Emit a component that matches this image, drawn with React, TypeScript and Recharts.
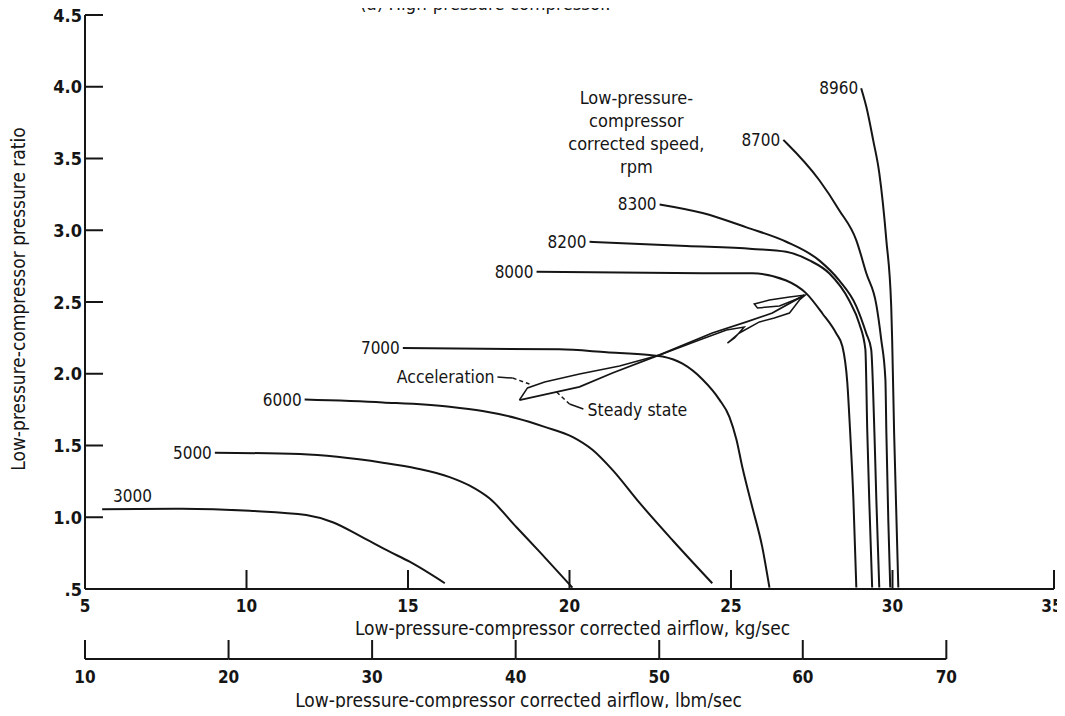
import React from "react";
import { LineChart, Line, XAxis, YAxis, ReferenceDot, ReferenceLine } from "recharts";

const INK = "#151515";
const FONT = "'Liberation Sans Narrow', 'DejaVu Sans Condensed', 'Liberation Sans', sans-serif";

// axes
const FLOW_DOMAIN: [number, number] = [5, 35];
const FLOW_TICKS = [5, 10, 15, 20, 25, 30, 35];
const LBM_DOMAIN: [number, number] = [10, 77.5];
const LBM_TICKS = [10, 20, 30, 40, 50, 60, 70];
const PR_DOMAIN: [number, number] = [0.5, 4.5];
const PR_TICKS = [0.5, 1, 1.5, 2, 2.5, 3, 3.5, 4, 4.5];

// constant corrected speed lines: airflow (kg/sec) and pressure ratio
const FLOW_3000 = [5.53, 8.0, 10.1, 11.85, 12.67, 13.51, 14.43, 15.05, 16.14];
const PR_3000 = [1.055, 1.06, 1.045, 1.015, 0.965, 0.87, 0.76, 0.69, 0.54];

const FLOW_5000 = [9.02, 11.65, 14.22, 15.27, 16.29, 16.91, 17.53, 18.36, 19.07, 20.09];
const PR_5000 = [1.45, 1.44, 1.38, 1.34, 1.28, 1.22, 1.13, 0.93, 0.76, 0.51];

const FLOW_6000 = [11.8, 14.22, 16.29, 17.31, 18.36, 19.23, 20.09, 20.71, 21.33, 22.17, 23.19, 24.42];
const PR_6000 = [1.82, 1.8, 1.77, 1.74, 1.69, 1.63, 1.56, 1.47, 1.33, 1.1, 0.84, 0.54];

const FLOW_7000 = [14.84, 19.69, 21.15, 22.48, 22.88, 23.5, 24.12, 24.64, 24.95, 25.17, 25.35, 25.66, 25.97, 26.19];
const PR_7000 = [2.18, 2.17, 2.15, 2.13, 2.12, 2.07, 1.96, 1.82, 1.7, 1.54, 1.35, 1.07, 0.79, 0.51];

const FLOW_8000 = [18.98, 24.42, 25.66, 26.71, 27.33, 27.83, 28.26, 28.45, 28.6, 28.69, 28.79, 28.88];
const PR_8000 = [2.71, 2.7, 2.7, 2.65, 2.56, 2.42, 2.28, 2.19, 1.94, 1.59, 1.12, 0.51];

const FLOW_8200 = [20.62, 23.62, 25.66, 26.71, 27.43, 28.04, 28.66, 28.97, 29.16, 29.22, 29.28, 29.37];
const PR_8200 = [2.92, 2.89, 2.87, 2.85, 2.79, 2.7, 2.51, 2.35, 2.17, 1.59, 1.12, 0.51];

const FLOW_8300 = [22.79, 24.12, 25.48, 26.71, 27.73, 28.35, 28.88, 29.19, 29.34, 29.44, 29.5, 29.59];
const PR_8300 = [3.18, 3.12, 3.02, 2.92, 2.79, 2.65, 2.47, 2.28, 2.17, 1.59, 1.12, 0.51];

const FLOW_8700 = [26.62, 26.71, 27.73, 28.35, 28.88, 29.19, 29.5, 29.65, 29.78, 29.81, 29.87, 29.93];
const PR_8700 = [3.63, 3.61, 3.35, 3.14, 2.93, 2.7, 2.48, 2.24, 1.96, 1.59, 0.98, 0.51];

const FLOW_8960 = [29.03, 29.19, 29.4, 29.59, 29.81, 29.96, 29.99, 30.05, 30.18];
const PR_8960 = [3.99, 3.86, 3.63, 3.4, 2.93, 2.47, 2.23, 1.59, 0.51];

// transient operating lines
const STEADY_FLOW = [18.45, 20.31, 21.33, 22.79, 24.42, 25.48, 26.28, 27.27];
const STEADY_PR = [1.817, 1.908, 2.005, 2.131, 2.284, 2.361, 2.423, 2.548];

const ACCEL_FLOW = [18.45, 18.7, 19.23, 20.31, 21.55, 22.79, 24.02, 24.86, 25.41, 25.11, 24.89, 25.26, 25.88, 26.34, 26.81, 27.12, 27.3, 26.81, 26.19, 25.72, 25.82, 26.5, 27.27];
const ACCEL_PR = [1.817, 1.901, 1.943, 1.998, 2.054, 2.131, 2.235, 2.305, 2.326, 2.249, 2.214, 2.284, 2.361, 2.389, 2.423, 2.514, 2.549, 2.535, 2.514, 2.486, 2.458, 2.472, 2.542];

const SPEED_LINES = [
  { rpm: 3000, flow: FLOW_3000, pr: PR_3000 },
  { rpm: 5000, flow: FLOW_5000, pr: PR_5000 },
  { rpm: 6000, flow: FLOW_6000, pr: PR_6000 },
  { rpm: 7000, flow: FLOW_7000, pr: PR_7000 },
  { rpm: 8000, flow: FLOW_8000, pr: PR_8000 },
  { rpm: 8200, flow: FLOW_8200, pr: PR_8200 },
  { rpm: 8300, flow: FLOW_8300, pr: PR_8300 },
  { rpm: 8700, flow: FLOW_8700, pr: PR_8700 },
  { rpm: 8960, flow: FLOW_8960, pr: PR_8960 },
];

const toRows = (flow: number[], pr: number[]) => flow.map((f, i) => ({ flow: f, pr: pr[i] }));

const textStyle = { fill: INK, fontFamily: FONT };

// speed label sits at the start of its line
const speedLabel = (rpm: number) => (props: any) => {
  if (props.index !== 0) return null;
  const x = props.viewBox?.x ?? props.x;
  const y = props.viewBox?.y ?? props.y;
  const above = rpm === 3000;
  return (
    <text
      x={above ? x + 11 : x - 3}
      y={above ? y - 13 : y}
      textAnchor={above ? "start" : "end"}
      dominantBaseline="central"
      fontSize={17}
      style={textStyle}
    >
      {rpm}
    </text>
  );
};

function FlowTick(props: any) {
  const { x, y, payload } = props;
  const last = payload.value === FLOW_TICKS[FLOW_TICKS.length - 1];
  return (
    <g>
      <line x1={x} x2={x} y1={y} y2={y - 19} stroke={INK} strokeWidth={2} />
      <text x={last ? x - 2 : x} y={y + 17} textAnchor="middle" dominantBaseline="central" fontSize={17} fontWeight={700} style={textStyle}>
        {payload.value}
      </text>
    </g>
  );
}

function LbmTick(props: any) {
  const { x, y, payload, width } = props;
  const step = (width * 10) / (LBM_DOMAIN[1] - LBM_DOMAIN[0]);
  const last = payload.value >= LBM_TICKS[LBM_TICKS.length - 1];
  return (
    <g>
      {!last && <line x1={x} x2={x + step} y1={y} y2={y} stroke={INK} strokeWidth={2} />}
      <line x1={x} x2={x} y1={y} y2={y - 19} stroke={INK} strokeWidth={2} />
      <text x={x} y={y + 18} textAnchor="middle" dominantBaseline="central" fontSize={17} fontWeight={700} style={textStyle}>
        {payload.value}
      </text>
    </g>
  );
}

function PrTick(props: any) {
  const { x, y, payload } = props;
  const v = payload.value as number;
  const label = v < 1 ? "." + Math.round(v * 10) : v.toFixed(1);
  return (
    <g>
      <line x1={x} x2={x + 18} y1={y} y2={y} stroke={INK} strokeWidth={2} />
      <text x={x - 3} y={y} textAnchor="end" dominantBaseline="central" fontSize={18} fontWeight={700} style={textStyle}>
        {label}
      </text>
    </g>
  );
}

const bottomTitle = (text: string, dx: number, dy: number) => (props: any) => {
  const vb = props.viewBox;
  return (
    <text x={vb.x + vb.width / 2 + dx} y={vb.y + dy} textAnchor="middle" dominantBaseline="central" fontSize={19} style={textStyle}>
      {text}
    </text>
  );
};

const sideTitle = (text: string) => (props: any) => {
  const vb = props.viewBox;
  const cx = vb.x + 18;
  const cy = vb.y + vb.height / 2 - 3;
  return (
    <text x={cx} y={cy} transform={`rotate(-90 ${cx} ${cy})`} textAnchor="middle" dominantBaseline="central" fontSize={19} style={textStyle}>
      {text}
    </text>
  );
};

const note = (lines: string[], anchor: "start" | "middle" | "end", gap: number, size: number) => (props: any) => (
  <text x={props.cx} y={props.cy} textAnchor={anchor} dominantBaseline="central" fontSize={size} style={textStyle}>
    {lines.map((l, i) => (
      <tspan key={l} x={props.cx} dy={i === 0 ? 0 : gap}>
        {l}
      </tspan>
    ))}
  </text>
);

const leader = { stroke: INK, strokeWidth: 1.5, ifOverflow: "visible" as const };

export default function App() {
  return (
    <div style={{ position: "relative", width: 1065, height: 716, margin: -8, overflow: "hidden", background: "#fff", fontFamily: FONT }}>
      <LineChart width={1065} height={716} margin={{ top: 15, right: 11, bottom: 0, left: 0 }}>
        <YAxis
          type="number"
          dataKey="pr"
          domain={PR_DOMAIN}
          ticks={PR_TICKS}
          interval={0}
          allowDataOverflow
          width={85}
          tickSize={0}
          tickMargin={0}
          tickLine={false}
          tick={<PrTick />}
          axisLine={{ stroke: INK, strokeWidth: 2 }}
          label={{ content: sideTitle("Low-pressure-compressor pressure ratio") }}
        />
        <XAxis
          xAxisId="kg"
          type="number"
          dataKey="flow"
          domain={FLOW_DOMAIN}
          ticks={FLOW_TICKS}
          interval={0}
          allowDataOverflow
          height={70}
          tickSize={0}
          tickMargin={0}
          tickLine={false}
          tick={<FlowTick />}
          axisLine={{ stroke: INK, strokeWidth: 2 }}
          label={{ content: bottomTitle("Low-pressure-compressor corrected airflow, kg/sec", 3, 39) }}
        />
        <XAxis
          xAxisId="lbm"
          type="number"
          dataKey="flow"
          domain={LBM_DOMAIN}
          ticks={LBM_TICKS}
          interval={0}
          allowDataOverflow
          height={57}
          tickSize={0}
          tickMargin={0}
          tickLine={false}
          tick={<LbmTick />}
          axisLine={false}
          label={{ content: bottomTitle("Low-pressure-compressor corrected airflow, lbm/sec", -51, 41) }}
        />

        {SPEED_LINES.map((s) => (
          <Line
            key={s.rpm}
            xAxisId="kg"
            data={toRows(s.flow, s.pr)}
            dataKey="pr"
            type="monotone"
            stroke={INK}
            strokeWidth={2}
            dot={false}
            isAnimationActive={false}
            label={speedLabel(s.rpm)}
          />
        ))}
        <Line xAxisId="kg" data={toRows(STEADY_FLOW, STEADY_PR)} dataKey="pr" type="linear" stroke={INK} strokeWidth={1.8} dot={false} isAnimationActive={false} />
        <Line xAxisId="kg" data={toRows(ACCEL_FLOW, ACCEL_PR)} dataKey="pr" type="linear" stroke={INK} strokeWidth={1.5} dot={false} isAnimationActive={false} />

        <ReferenceLine xAxisId="kg" segment={[{ x: 17.77, y: 1.977 }, { x: 18.24, y: 1.97 }]} {...leader} />
        <ReferenceLine xAxisId="kg" segment={[{ x: 18.24, y: 1.97 }, { x: 18.76, y: 1.929 }]} {...leader} strokeDasharray="4 3" />
        <ReferenceLine xAxisId="kg" segment={[{ x: 19.6, y: 1.873 }, { x: 20.0, y: 1.789 }]} {...leader} strokeDasharray="4 3" />
        <ReferenceLine xAxisId="kg" segment={[{ x: 20.0, y: 1.789 }, { x: 20.43, y: 1.754 }]} {...leader} />

        <ReferenceDot xAxisId="kg" x={17.68} y={1.977} r={0} shape={note(["Acceleration"], "end", 0, 17.5)} ifOverflow="visible" />
        <ReferenceDot xAxisId="kg" x={20.56} y={1.747} r={0} shape={note(["Steady state"], "start", 0, 17.5)} ifOverflow="visible" />
        <ReferenceDot
          xAxisId="kg"
          x={22.07}
          y={3.93}
          r={0}
          shape={note(["Low-pressure-", "compressor", "corrected speed,", "rpm"], "middle", 23, 18)}
          ifOverflow="visible"
        />
      </LineChart>
      <div style={{ position: "absolute", left: 360, top: -5, fontSize: 18.5, lineHeight: "18px", whiteSpace: "nowrap", color: INK }}>
        (a) High-pressure compressor.
      </div>
    </div>
  );
}
